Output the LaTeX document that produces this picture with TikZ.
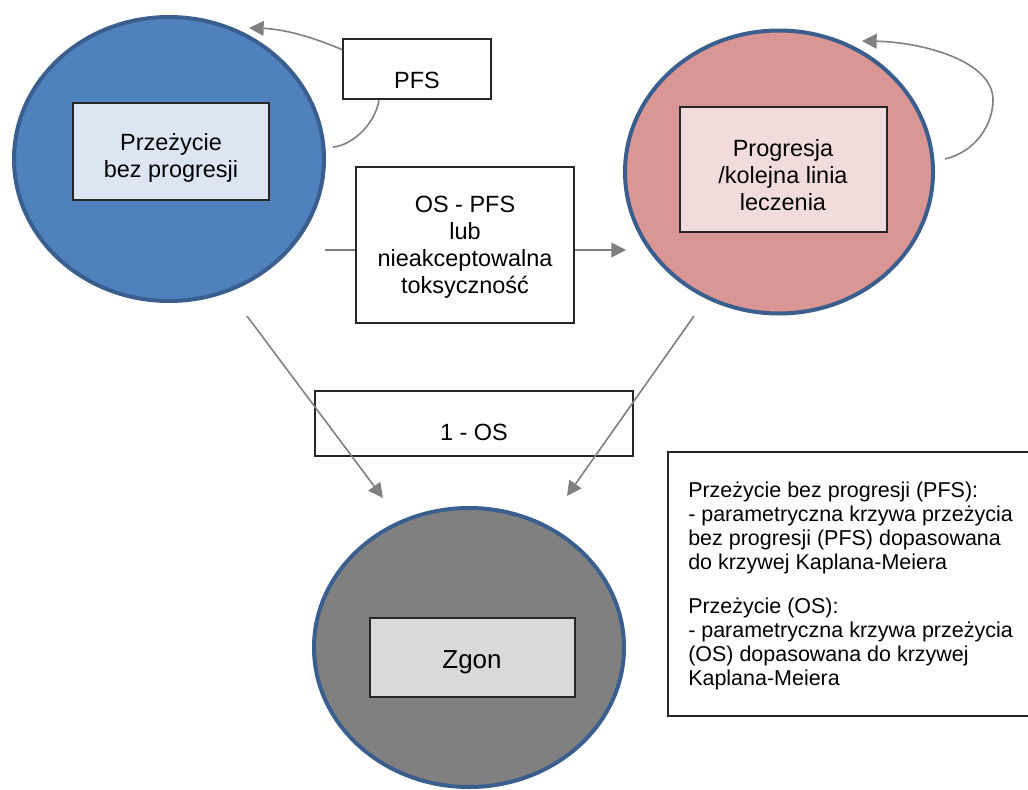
\documentclass[tikz,border=0pt]{standalone}
\usepackage{fontspec}
\setmainfont{Liberation Sans}
\usetikzlibrary{shapes.geometric,arrows.meta}
\definecolor{cblue}{HTML}{4F81BD}
\definecolor{cborder}{HTML}{3A5F8E}
\definecolor{cpink}{HTML}{D99694}
\definecolor{cgray}{HTML}{808080}
\definecolor{lblue}{HTML}{DCE6F2}
\definecolor{lpink}{HTML}{F2DCDB}
\definecolor{lgray}{HTML}{D9D9D9}
\definecolor{arr}{HTML}{808080}
\begin{document}
\begin{tikzpicture}[x=0.75pt,y=-0.75pt,
  state/.style={ellipse, draw=cborder, line width=3pt, inner sep=0pt},
  box/.style={rectangle, draw=black!85, line width=0.8pt, inner sep=0pt},
  lbl/.style={align=center, inner sep=0pt, font=\fontsize{17.6}{20.25}\selectfont},
  conn/.style={draw=arr, line width=1.2pt},
  arrowed/.style={-{Triangle[length=11pt,width=11pt]}}
]
\clip (0,0) rectangle (1028,789);
% states
\node[state, fill=cblue, minimum width=232.5pt, minimum height=213pt] (pfsC) at (169,159) {};
\node[state, fill=cpink, minimum width=231pt, minimum height=212.25pt] (progC) at (779,172) {};
\node[state, fill=cgray, minimum width=232.5pt, minimum height=209.25pt] (deathC) at (469,647.5) {};
% inner boxes
\node[box, fill=lblue, minimum width=147pt, minimum height=72.75pt] (pfsB) at (171,151.5) {};
\node[lbl] (pfsT) at (171,158) {Przeżycie\\bez progresji};
\node[box, fill=lpink, minimum width=155.25pt, minimum height=93.75pt] (progB) at (783.5,169.5) {};
\node[lbl] (progT) at (783,175) {Progresja\\/kolejna linia\\leczenia};
\node[box, fill=lgray, minimum width=153.75pt, minimum height=59.25pt] (deathB) at (472.5,657.5) {};
\node[lbl, font=\fontsize{19.5}{22}\selectfont] (deathT) at (472,662) {Zgon};
% self loops (drawn under the PFS box)
\coordinate (l1a) at (333,147);
\coordinate (l1b) at (379,99);
\coordinate (l1c) at (343,50);
\coordinate (l1d) at (249,28);
\draw[conn] (l1a) .. controls (355,145) and (377,120) .. (l1b);
\draw[conn, arrowed] (l1c) .. controls (315,38) and (285,29) .. (l1d);
\coordinate (l2a) at (945,159);
\coordinate (l2b) at (993,100);
\coordinate (l2c) at (862,41);
\draw[conn, arrowed] (l2a) .. controls (975,152) and (993,125) .. (l2b)
   .. controls (993,60) and (920,42) .. (l2c);
% transition label boxes
\node[box, fill=white, minimum width=111pt, minimum height=45pt] (pfsL) at (417,69) {};
\node[lbl] (pfsLT) at (417,80) {PFS};
\node[box, fill=white, minimum width=163.5pt, minimum height=117pt] (tox) at (465,245) {};
\node[lbl] (toxT) at (465,247) {OS - PFS\\lub\\nieakceptowalna\\toksyczność};
\node[box, fill=white, minimum width=238.5pt, minimum height=48.75pt] (osL) at (474,423.5) {};
\node[lbl] (osLT) at (474,432) {1 - OS};
% horizontal transition
\coordinate (h1) at (325,250);
\coordinate (h2) at (626,250);
\draw[conn] (h1) -- (h1 -| tox.west);
\draw[conn, arrowed] (h2 -| tox.east) -- (h2);
% diagonal transitions to death
\coordinate (d1a) at (247,316);
\coordinate (d1b) at (383,498);
\coordinate (d2a) at (694,316);
\coordinate (d2b) at (567,496);
\draw[conn, arrowed] (d1a) -- (d1b);
\draw[conn, arrowed] (d2a) -- (d2b);
% note box
\node[box, fill=white, minimum width=279pt, minimum height=198pt] (note) at (854,584) {};
\node[anchor=north west, align=left, inner sep=0pt, font=\fontsize{16.1}{18}\selectfont] (noteT) at (688,481.5)
 {Przeżycie bez progresji (PFS):\\- parametryczna krzywa przeżycia\\bez progresji (PFS) dopasowana\\do krzywej Kaplana-Meiera\\[15pt]Przeżycie (OS):\\- parametryczna krzywa przeżycia\\(OS) dopasowana do krzywej\\Kaplana-Meiera};
\end{tikzpicture}
\end{document}
